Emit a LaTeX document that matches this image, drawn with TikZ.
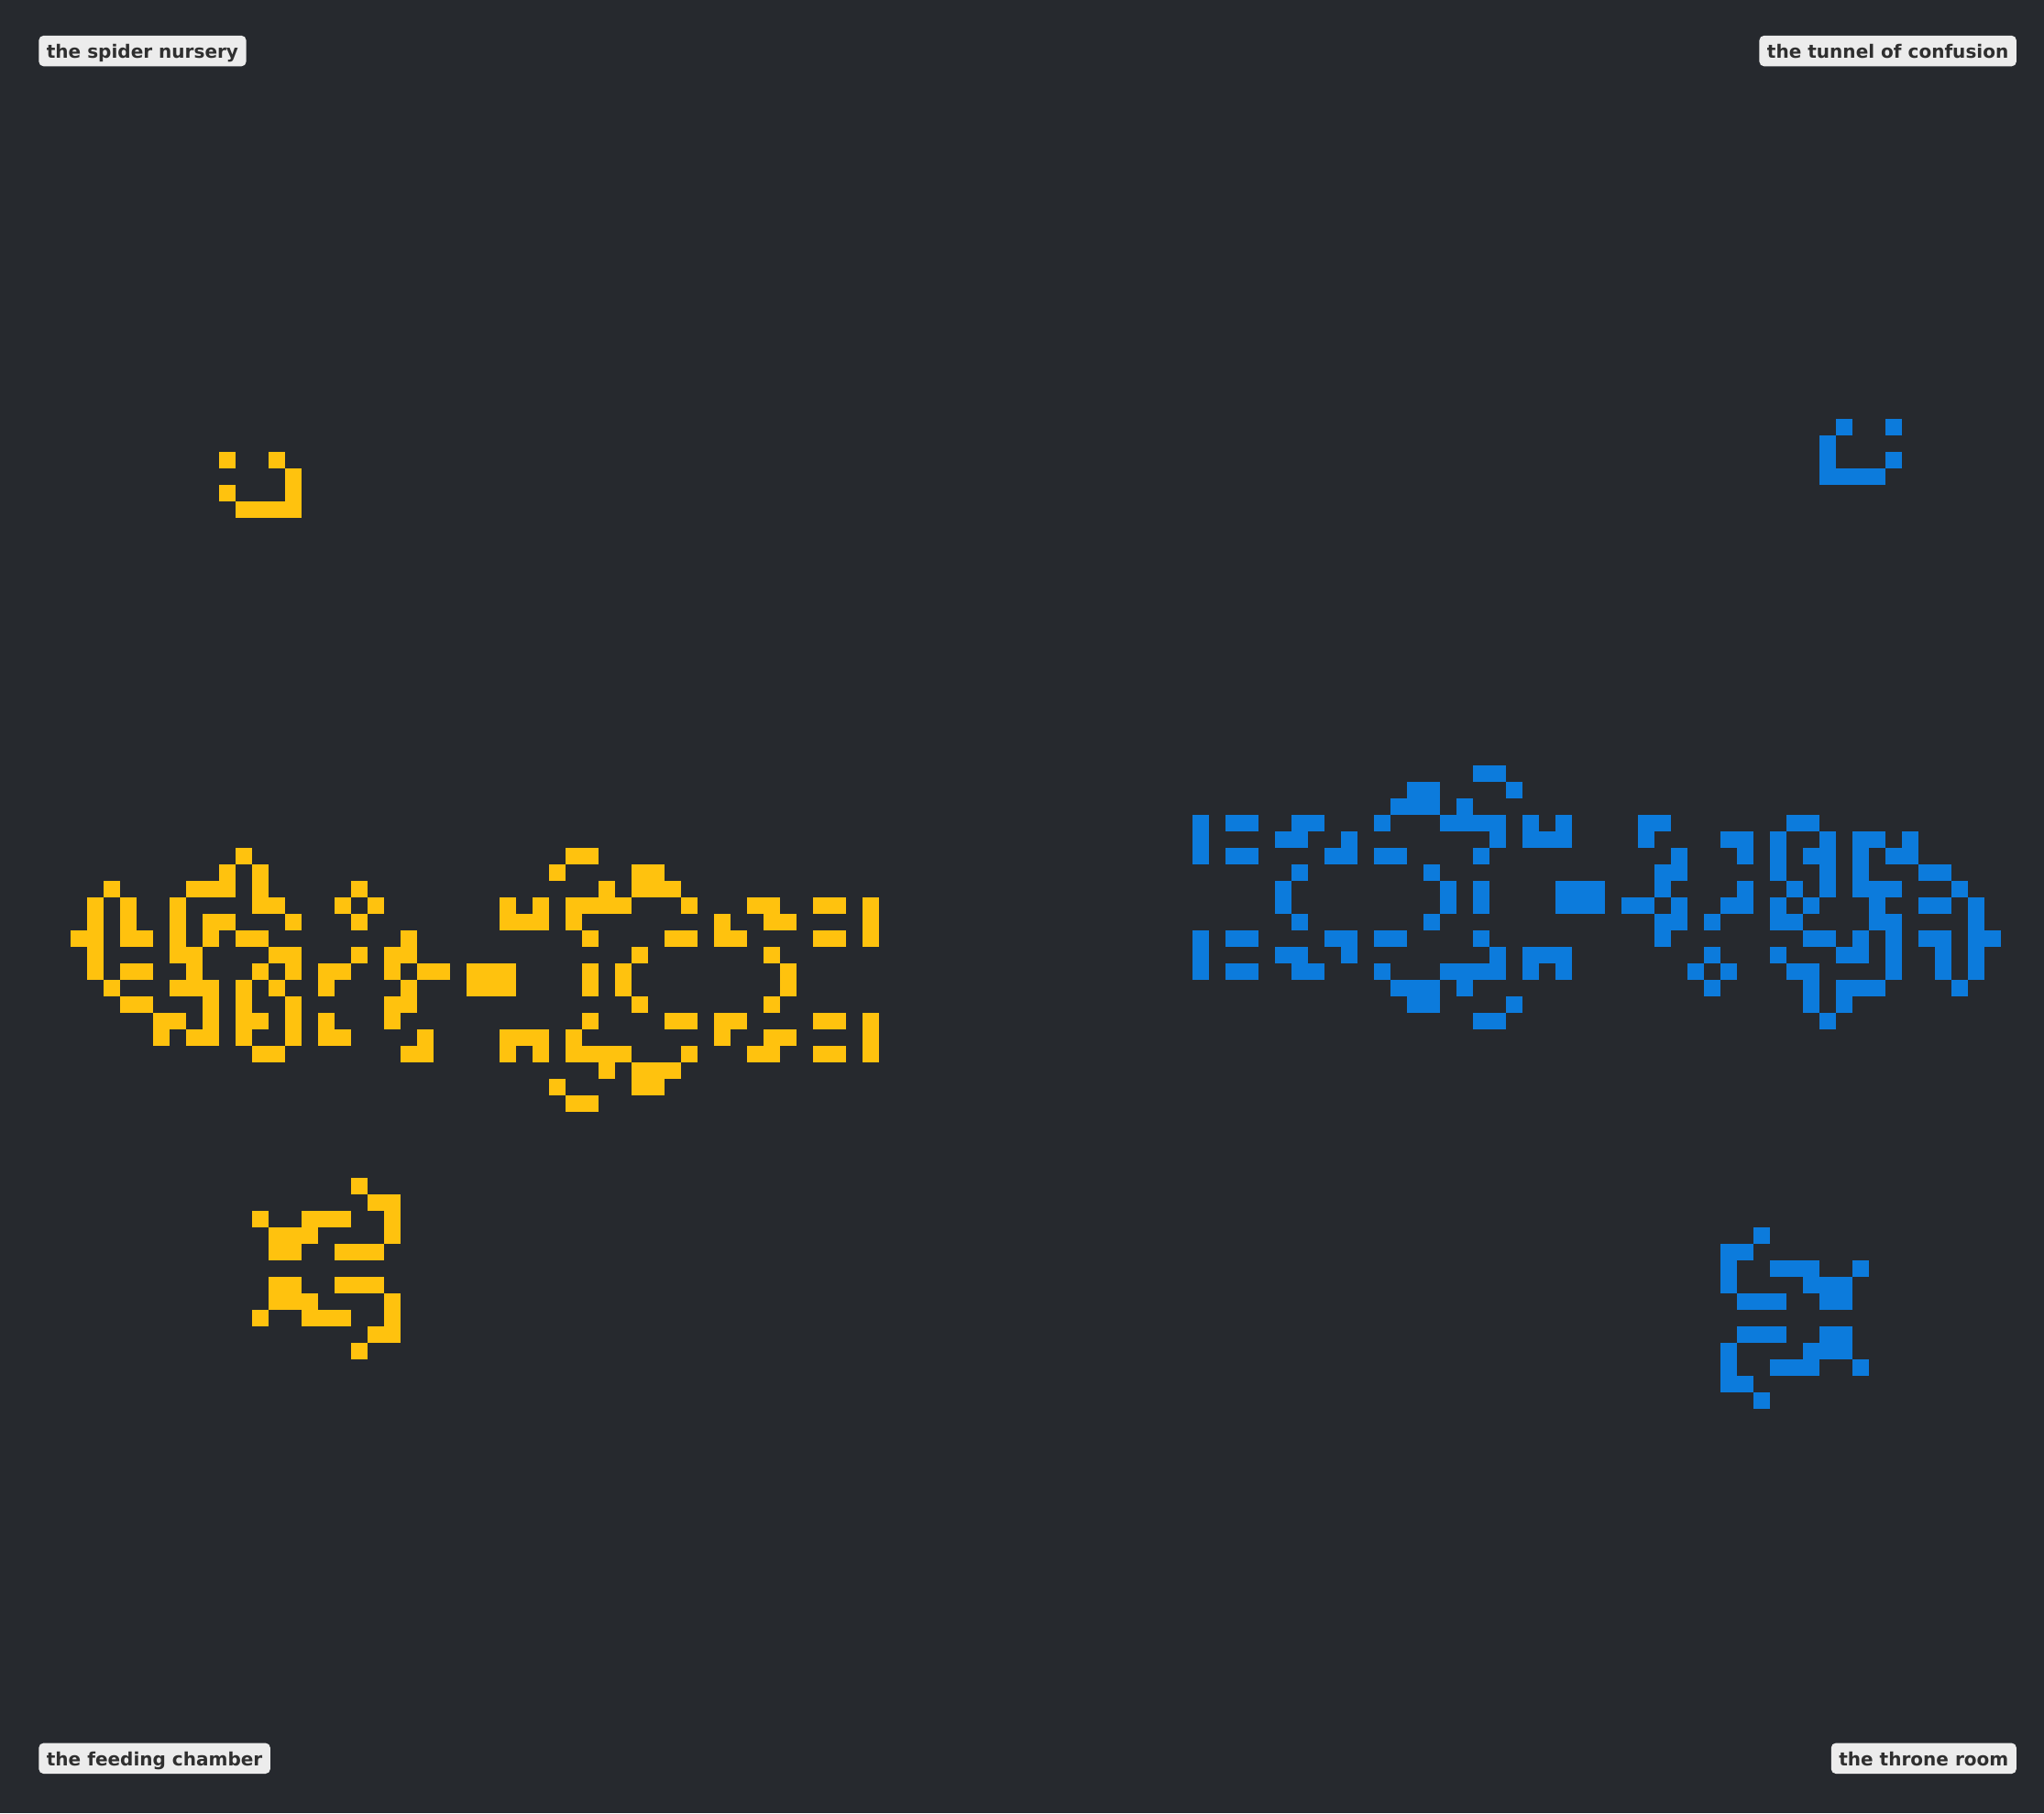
\documentclass[tikz,border=0pt]{standalone}
\usepackage{fontspec}
\newfontfamily\tagfamily{DejaVu Sans}
\definecolor{boardbg}{HTML}{26292E}
\definecolor{amber}{HTML}{FFC20E}
\definecolor{azure}{HTML}{0C7BDC}
\definecolor{tagbg}{HTML}{ECECEC}
\definecolor{tagfg}{HTML}{2F2F2F}
% one live cell of the board, column #2, row #3 (18px = 1.8mm cells)
\newcommand{\lifecell}[3]{\fill[#1] ({0.5+1.8*#2},{0.7+1.8*#3}) rectangle ++(1.8,1.8);}
\begin{document}
\begin{tikzpicture}[
  x=1mm, y=-1mm,
  tag/.style={fill=tagbg, text=tagfg, rounded corners=0.5mm, inner xsep=0.85mm, inner ysep=0.39mm,
    text height=2.11mm, text depth=0.45mm, font=\tagfamily\bfseries\fontsize{5.7pt}{6pt}\selectfont}
]
\fill[boardbg] (0,0) rectangle (223,197.8);
% yellow colony
\foreach \r/\cs in {27/{13,16},28/{17},29/{13,17},30/{14,15,16,17},
    51/{14,34,35},52/{13,15,33,38,39},53/{6,11,12,13,15,21,36,38,39,40},
    54/{5,7,10,15,16,20,22,30,32,34,35,36,37,41,45,46,49,50,52},
    55/{5,7,10,12,13,17,21,30,31,32,34,43,46,47,52},
    56/{4,5,7,8,10,12,14,15,24,35,40,41,43,44,49,50,52},
    57/{5,10,11,16,17,21,23,24,38,46},
    58/{5,7,8,11,15,17,19,20,23,25,26,28,29,30,35,37,47},
    59/{6,10,11,12,14,16,19,24,28,29,30,35,37,47},
    60/{7,8,12,14,17,23,24,38,46},
    61/{9,10,12,14,15,17,19,23,35,40,41,43,44,49,50,52},
    62/{9,11,12,14,17,19,20,25,30,31,32,34,43,46,47,52},
    63/{15,16,24,25,30,32,34,35,36,37,41,45,46,49,50,52},
    64/{36,38,39,40},65/{33,38,39},66/{34,35},
    71/{21},72/{22,23},73/{15,18,19,20,23},74/{16,17,18,23},75/{16,17,20,21,22},
    77/{16,17,20,21,22},78/{16,17,18,23},79/{15,18,19,20,23},80/{22,23},81/{21}} {
  \foreach \c in \cs {\lifecell{amber}{\c}{\r}}
}
% blue colony
\foreach \r/\cs in {25/{111,114},26/{110},27/{110,114},28/{110,111,112,113},
    46/{89,90},47/{85,86,91},48/{84,85,86,88},
    49/{72,74,75,78,79,83,87,88,89,90,92,94,99,100,108,109},
    50/{72,77,78,81,90,92,93,94,99,104,105,107,110,112,113,115},
    51/{72,74,75,80,81,83,84,89,101,105,107,109,110,112,114,115},
    52/{78,86,100,101,107,110,112,116,117},
    53/{77,87,89,94,95,96,100,105,108,110,112,113,114,118},
    54/{77,87,89,94,95,96,98,99,101,104,105,107,109,113,116,117,119},
    55/{78,86,100,101,103,107,108,113,114,119},
    56/{72,74,75,80,81,83,84,89,100,109,110,112,114,116,117,119,120},
    57/{72,77,78,81,90,92,93,94,103,107,111,112,114,117,119},
    58/{72,74,75,78,79,83,87,88,89,90,92,94,102,104,108,109,114,117,119},
    59/{84,85,86,88,103,109,111,112,113,118},
    60/{85,86,91,109,111},61/{89,90,110},
    74/{106},75/{104,105},76/{104,107,108,109,112},77/{104,109,110,111},78/{105,106,107,110,111},
    80/{105,106,107,110,111},81/{104,109,110,111},82/{104,107,108,109,112},83/{104,105},84/{106}} {
  \foreach \c in \cs {\lifecell{azure}{\c}{\r}}
}
% corner labels
\node[tag, anchor=north west] (nursery) at (4.17,3.82) {the spider nursery};
\node[tag, anchor=north east] (tunnel) at (220.05,3.82) {the tunnel of confusion};
\node[tag, anchor=south west] (feeding) at (4.17,193.57) {the feeding chamber};
\node[tag, anchor=south east] (throne) at (220.05,193.57) {the throne room};
\end{tikzpicture}
\end{document}
